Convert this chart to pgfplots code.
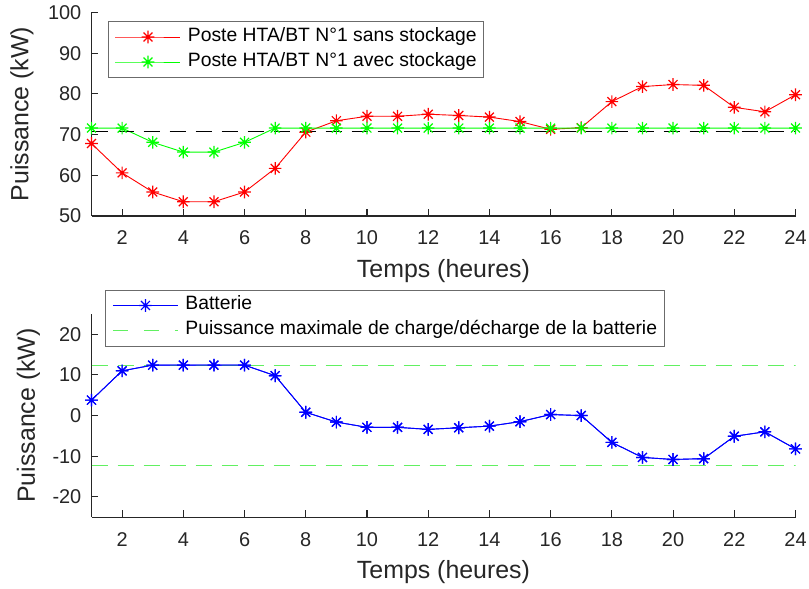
\documentclass[border=0pt]{standalone}
\usepackage{pgfplots}
\pgfplotsset{compat=1.18}
\usepackage{fontspec}
\setmainfont{Liberation Sans}
\definecolor{axgray}{rgb}{0.15,0.15,0.15}
\definecolor{legedge}{rgb}{0.42,0.42,0.42}
\definecolor{lgreen}{rgb}{0.38,0.94,0.38}
\pgfdeclareplotmark{mstar}{%
  \pgfpathmoveto{\pgfpoint{-\pgfplotmarksize}{0pt}}\pgfpathlineto{\pgfpoint{\pgfplotmarksize}{0pt}}%
  \pgfpathmoveto{\pgfpoint{0pt}{-\pgfplotmarksize}}\pgfpathlineto{\pgfpoint{0pt}{\pgfplotmarksize}}%
  \pgfpathmoveto{\pgfpoint{-0.707\pgfplotmarksize}{-0.707\pgfplotmarksize}}\pgfpathlineto{\pgfpoint{0.707\pgfplotmarksize}{0.707\pgfplotmarksize}}%
  \pgfpathmoveto{\pgfpoint{-0.707\pgfplotmarksize}{0.707\pgfplotmarksize}}\pgfpathlineto{\pgfpoint{0.707\pgfplotmarksize}{-0.707\pgfplotmarksize}}%
  \pgfusepathqstroke}
\pgfplotsset{
  base/.style={
    scale only axis, width=704bp,
    xmin=1, xmax=24, xtick={2,4,...,24},
    axis x line=bottom, axis y line=left,
    axis line style={-, line width=1.1bp, axgray},
    tick align=inside, major tick length=7bp,
    tick style={line width=1.1bp, axgray},
    /pgf/number format/assume math mode=true,
    tick label style={font=\fontsize{20}{24}\selectfont, text=axgray},
    xticklabel style={anchor=base, yshift=-29bp, inner sep=0pt},
    yticklabel style={anchor=east, inner sep=0pt, xshift=-10bp},
    xlabel={Temps (heures)},
    xlabel style={at={(axis description cs:0.5,0)}, anchor=base, yshift=-61.3bp, font=\fontsize{25}{30}\selectfont, text=axgray},
    ylabel={Puissance (kW)},
    legend cell align=left,
    legend style={anchor=north west, draw=legedge, line width=0.7bp, fill=white,
      inner xsep=7bp, inner ysep=6.1bp,
      font=\fontsize{19.4}{23}\selectfont,
      nodes={inner sep=0pt, text height=14bp, text depth=5bp},
      row sep=6bp},
  },
  legm/.style={legend image code/.code={%
      \draw[color=#1, line width=0.9bp, mark options={solid, color=#1, line width=1.2bp}]
        plot[mark=mstar, mark size=6.3bp, mark repeat=2, mark phase=2] coordinates {(0bp,0bp) (32.5bp,0bp) (65bp,0bp)};
      \path (72bp,0bp);}},
  legd/.style={legend image code/.code={%
      \draw[color=#1, line width=1.1bp, dash pattern=on 15bp off 16bp, mark options={solid, color=#1}]
        plot[mark=mstar, mark size=0pt] coordinates {(0bp,0bp) (65bp,0bp)};
      \path (72bp,0bp);}},
  dline/.style={color=#1, line width=0.9bp, mark=mstar, mark size=6.3bp, mark options={solid, color=#1, line width=1.2bp}, legm=#1},
  dash/.style={color=#1, line width=1.1bp, dash pattern=on 16bp off 10bp, mark=mstar, mark size=0pt, mark options={solid, color=#1}},
}
\begin{document}
\begin{tikzpicture}
\useasboundingbox (0,0) rectangle (809bp,589bp);
\begin{axis}[base,
  at={(91.5bp,373bp)}, anchor=south west, height=203.5bp,
  ymin=50, ymax=100, ytick={50,60,...,100},
  ylabel style={at={(axis description cs:-0.0898,0.5)}, anchor=base, font=\fontsize{25}{30}\selectfont, text=axgray},
  legend style={at={(axis description cs:0.023,0.958)}},
]
\addplot[dline=red] coordinates {
(1,67.8) (2,60.6) (3,55.9) (4,53.5) (5,53.5) (6,55.9) (7,61.7) (8,70.6)
(9,73.4) (10,74.5) (11,74.5) (12,75.0) (13,74.7) (14,74.3) (15,73.2) (16,71.3)
(17,71.7) (18,78.1) (19,81.8) (20,82.3) (21,82.1) (22,76.7) (23,75.6) (24,79.8)};
\addlegendentry{Poste HTA/BT N°1 sans stockage}
\addplot[dline=green] coordinates {
(1,71.6) (2,71.6) (3,68.1) (4,65.7) (5,65.7) (6,68.1) (7,71.6) (8,71.6)
(9,71.6) (10,71.6) (11,71.6) (12,71.6) (13,71.6) (14,71.6) (15,71.6) (16,71.6)
(17,71.6) (18,71.6) (19,71.6) (20,71.6) (21,71.6) (22,71.6) (23,71.6) (24,71.6)};
\addlegendentry{Poste HTA/BT N°1 avec stockage}
\addplot[dash=black, line width=0.9bp, forget plot] coordinates {(1,70.65) (24,70.65)};
\end{axis}
\begin{axis}[base,
  at={(91.5bp,71.8bp)}, anchor=south west, height=203.3bp,
  ymin=-25, ymax=25, ytick={-20,-10,0,10,20}, yticklabels={-20,-10,0,10,20},
  ylabel style={at={(axis description cs:-0.0803,0.5)}, anchor=base, font=\fontsize{25}{30}\selectfont, text=axgray},
  legend style={at={(axis description cs:0.0192,1.120)}},
]
\addplot[dline=blue] coordinates {
(1,3.8) (2,11.0) (3,12.4) (4,12.4) (5,12.4) (6,12.4) (7,9.8) (8,0.8)
(9,-1.6) (10,-2.9) (11,-2.9) (12,-3.4) (13,-3.0) (14,-2.6) (15,-1.5) (16,0.25)
(17,0.0) (18,-6.6) (19,-10.3) (20,-10.8) (21,-10.6) (22,-5.1) (23,-4.0) (24,-8.2)};
\addlegendentry{Batterie}
\addplot[dash=lgreen, legd=lgreen] coordinates {(1,12.35) (24,12.35)};
\addlegendentry{Puissance maximale de charge/décharge de la batterie}
\addplot[dash=lgreen, forget plot] coordinates {(1,-12.25) (24,-12.25)};
\addplot[dline=blue, forget plot] coordinates {
(1,3.8) (2,11.0) (3,12.4) (4,12.4) (5,12.4) (6,12.4) (7,9.8) (8,0.8)
(9,-1.6) (10,-2.9) (11,-2.9) (12,-3.4) (13,-3.0) (14,-2.6) (15,-1.5) (16,0.25)
(17,0.0) (18,-6.6) (19,-10.3) (20,-10.8) (21,-10.6) (22,-5.1) (23,-4.0) (24,-8.2)};
\end{axis}
\end{tikzpicture}
\end{document}
